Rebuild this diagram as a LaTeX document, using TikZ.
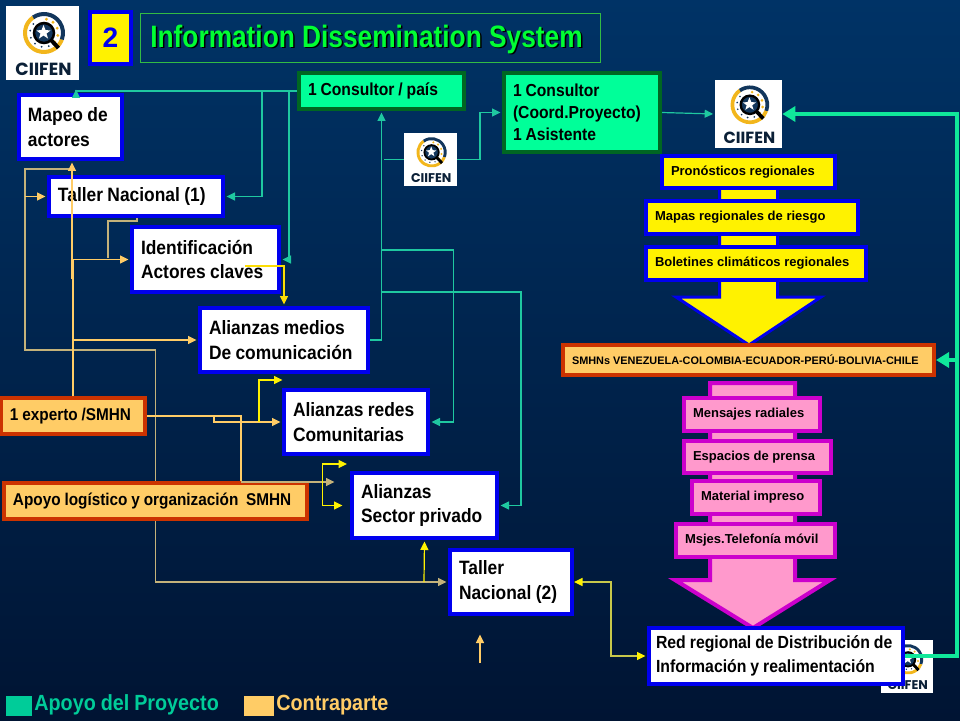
\documentclass[tikz,border=0pt]{standalone}
\usepackage{fontspec}
\setmainfont[FakeStretch=0.9, WordSpace=0.9]{Liberation Sans}
\newfontfamily\widefont{Liberation Sans}
\newfontfamily\titlefont[FakeStretch=0.85]{Liberation Sans}
\newfontfamily\logofont{Poppins}
\usetikzlibrary{arrows.meta}
\definecolor{bgtop}{HTML}{003366}
\definecolor{bgbottom}{HTML}{001433}
\definecolor{boxblue}{HTML}{0000EE}
\definecolor{darkgreen}{HTML}{006622}
\definecolor{mintfill}{HTML}{00FF99}
\definecolor{titlegreen}{HTML}{00FF33}
\definecolor{titleline}{HTML}{33BB44}
\definecolor{redline}{HTML}{CC3300}
\definecolor{orangefill}{HTML}{FFCC66}
\definecolor{legendgreen}{HTML}{00CC99}
\definecolor{pinkfill}{HTML}{FF99CC}
\definecolor{pinkline}{HTML}{CC00CC}
\definecolor{linkgreen}{HTML}{1FC8A0}
\definecolor{thickgreen}{HTML}{10E89A}
\definecolor{tanline}{HTML}{C4B27A}
\definecolor{oliveline}{HTML}{C8C84A}
\definecolor{logogold}{HTML}{F2B61C}
\definecolor{logonavy}{HTML}{12365C}

\begin{document}
\begin{tikzpicture}[
    x=0.02cm, y=-0.02cm,
    sized/.style 2 args={minimum width=#1*0.02cm, minimum height=#2*0.02cm, text width=#1*0.02cm-0.36cm},
    anybox/.style={rectangle, line width=0.08cm, align=flush left, inner sep=0pt, text=black},
    whitebox/.style={anybox, draw=boxblue, fill=white, font=\fontsize{11}{14.2}\selectfont\bfseries},
    mintbox/.style={anybox, draw=darkgreen, fill=mintfill, font=\fontsize{9.9}{12.6}\selectfont\bfseries},
    orangebox/.style={anybox, draw=redline, fill=orangefill, font=\fontsize{9.7}{12.6}\selectfont\bfseries},
    yellowbox/.style={anybox, draw=boxblue, fill=yellow, font=\widefont\fontsize{7.4}{9}\selectfont\bfseries},
    pinkbox/.style={anybox, draw=pinkline, fill=pinkfill, font=\widefont\fontsize{7.4}{9}\selectfont\bfseries},
    logobox/.style={rectangle, fill=white, inner sep=0pt},
    link/.style={-{Triangle[length=0.17cm, width=0.16cm]}, line width=0.024cm, shorten >=0.03cm},
    greenlink/.style={link, linkgreen},
    orangelink/.style={link, orangefill},
    tanlink/.style={link, tanline},
    yellowlink/.style={link, yellow},
    thicklink/.style={-{Triangle[length=0.26cm, width=0.3cm]}, line width=0.08cm, thickgreen},
    legendtext/.style={font=\fontsize{12.5}{14}\selectfont\bfseries, inner sep=0pt, anchor=west},
    pics/ciifenmark/.style={code={
      \begin{scope}[scale=#1, transform shape]
        \draw[logogold, line width=#1*0.08cm] (1.5,-10)+(-125:19) arc[start angle=-125, end angle=-340, radius=19];
        \draw[logonavy, line width=#1*0.08cm] (1.5,-10)+(-125:19) arc[start angle=-125, end angle=20, radius=19];
        \foreach \a in {-80,-50,-20,10,40} \fill[logogold] (1.5,-10)+(\a:14) circle (1.6);
        \foreach \a in {70,100,130,160,190,220} \fill[logonavy] (1.5,-10)+(\a:14) circle (1);
        \draw[black, line width=#1*0.08cm] (8.5,-3) -- (16,5);
        \draw[black, fill=logonavy, line width=#1*0.05cm] (1.5,-10) circle (10);
        \fill[white] (1,-18) -- (3,-13) -- (8,-12.5) -- (4,-9.5) -- (5.5,-4.5) -- (1,-7.5) -- (-3.5,-4.5) -- (-2,-9.5) -- (-6,-12.5) -- (-1,-13) -- cycle;
        \node[font=\logofont\bfseries\fontsize{10}{11}\selectfont, text=logonavy!60!black, inner sep=0pt] (logoname) at (1,26) {CIIFEN};
      \end{scope}
    }},
  ]
  % background
  \shade[top color=bgtop, bottom color=bgbottom] (0,0) rectangle (960,720);
  \useasboundingbox (0,0) rectangle (960,720);

  % big arrows behind the boxes
  \draw[boxblue, fill=yellow, line width=0.06cm] (719.5,188) -- (777.5,188) -- (777.5,297) -- (821,297) -- (749,345) -- (676,297) -- (719.5,297) -- cycle;
  \draw[pinkline, fill=pinkfill, line width=0.08cm] (710,383) -- (795,383) -- (795,580) -- (830,580) -- (753,628) -- (675,580) -- (710,580) -- cycle;

  % logos
  \node[logobox, minimum width=1.46cm, minimum height=1.48cm] (logohead) at (42.5,43) {};
  \pic at (logohead) {ciifenmark=1};
  \node[logobox, minimum width=1.34cm, minimum height=1.36cm] (logotop) at (748.5,114) {};
  \pic at (logotop) {ciifenmark=0.92};
  \node[logobox, minimum width=1.06cm, minimum height=1.06cm] (logomid) at (430.5,159.5) {};
  \pic at (logomid) {ciifenmark=0.72};
  \node[logobox, minimum width=1.04cm, minimum height=1.06cm] (logolow) at (907,666.5) {};
  \pic at (logolow) {ciifenmark=0.72};

  % title
  \node[rectangle, draw=boxblue, fill=yellow, line width=0.08cm, minimum width=0.82cm, minimum height=1.04cm, text=boxblue, font=\widefont\fontsize{16}{16}\selectfont\bfseries, inner sep=0pt] (num) at (110.5,38) {2};
  \node[rectangle, draw=titleline, line width=0.02cm, minimum width=9.22cm, minimum height=0.98cm] (titlebox) at (370.5,38) {};
  \node[font=\titlefont\fontsize{17.6}{20}\selectfont\bfseries, text=black, inner sep=0pt, anchor=west] (titleshade) at (151.5,41) {Information Dissemination System};
  \node[font=\titlefont\fontsize{17.6}{20}\selectfont\bfseries, text=titlegreen, inner sep=0pt, anchor=west] (titletext) at (150,39.5) {Information Dissemination System};

  % left column
  \node[whitebox, sized={103}{64}] (mapeo) at (70.5,127) {Mapeo de\\actores};
  \node[whitebox, sized={174}{39}] (taller1) at (136,196.5) {Taller Nacional (1)};
  \node[whitebox, sized={147}{65}] (ident) at (205.5,259.5) {Identificación\\Actores claves};
  \node[whitebox, sized={168}{64}] (medios) at (284,340) {Alianzas medios\\De comunicación};
  \node[whitebox, sized={144}{64}] (redes) at (356,422) {Alianzas redes\\Comunitarias};
  \node[whitebox, sized={145}{65}] (sector) at (424.5,505.5) {Alianzas\\Sector privado};
  \node[whitebox, sized={122}{64}] (taller2) at (511,582) {Taller\\Nacional (2)};
  \node[orangebox, sized={144}{36}] (experto) at (73,416) {1 experto /SMHN};
  \node[orangebox, sized={303}{36}] (apoyo) at (155.5,501) {Apoyo logístico y organización\ \ SMHN};

  % top green boxes
  \node[mintbox, sized={165}{36}] (consultor) at (381.5,91) {1 Consultor / país};
  \node[mintbox, sized={156}{79}] (coord) at (582,112.5) {1 Consultor\\(Coord.Proyecto)\\1 Asistente};

  % yellow stack
  \node[yellowbox, sized={173}{32}] (pronos) at (748.5,172) {Pronósticos regionales};
  \node[yellowbox, sized={212}{33}] (mapas) at (752,217.5) {Mapas regionales de riesgo};
  \node[yellowbox, sized={220}{33}] (boletines) at (756,263.5) {Boletines climáticos regionales};
  \node[orangebox, sized={371}{30}, font=\widefont\fontsize{6.2}{8}\selectfont\bfseries] (smhn) at (748.5,360) {SMHNs VENEZUELA-COLOMBIA-ECUADOR-PERÚ-BOLIVIA-CHILE};

  % pink stack
  \node[pinkbox, sized={136}{33}] (mensajes) at (752,414.5) {Mensajes radiales};
  \node[pinkbox, sized={147}{32}] (espacios) at (757.5,457) {Espacios de prensa};
  \node[pinkbox, sized={128}{33}] (material) at (756,497.5) {Material impreso};
  \node[pinkbox, sized={159}{33}] (msjes) at (755.5,540.5) {Msjes.Telefonía móvil};
  \node[whitebox, sized={254}{56}, text width=4.8cm, font=\fontsize{10}{13.6}\selectfont\bfseries] (red) at (776,656) {Red regional de Distribución de\\Información y realimentación};

  % legend
  \node[rectangle, fill=legendgreen, minimum width=0.52cm, minimum height=0.4cm, inner sep=0pt] (keygreen) at (19,706) {};
  \node[legendtext, text=legendgreen] (keygreentext) at (34,705) {Apoyo del Proyecto};
  \node[rectangle, fill=orangefill, minimum width=0.6cm, minimum height=0.4cm, inner sep=0pt] (keyorange) at (259,706) {};
  \node[legendtext, text=orangefill] (keyorangetext) at (276,705) {Contraparte};

  % junctions on the lines
  \coordinate (tiemapeo) at (76,88);
  \coordinate (tietop) at (262,91);
  \coordinate (tieident) at (289,91);
  \coordinate (midbus) at (382,159.5);
  \coordinate (tieredes) at (382,250);
  \coordinate (tiesector) at (382,292);
  \coordinate (busright) at (480,159.5);
  \coordinate (tiesmhn) at (957,360);
  \coordinate (leftbus) at (25,350);
  \coordinate (bustop) at (25,169);
  \coordinate (tietaller) at (25,196.5);
  \coordinate (mapeofeed) at (72,279);
  \coordinate (tiemapeofeed) at (72,169);
  \coordinate (tiemedios) at (73,340);
  \coordinate (tallerlow) at (137,218);
  \coordinate (tiefeed) at (108,259.5);
  \coordinate (identtext) at (245,266);
  \coordinate (tieexperto) at (214,416);
  \coordinate (tieapoyo) at (241,482);
  \coordinate (apoyoout) at (336,482);
  \coordinate (tiemediosup) at (259,422);
  \coordinate (medioslow) at (284,380);
  \coordinate (sectorup) at (322.5,505.5);
  \coordinate (sectorin) at (344,505.5);
  \coordinate (redeslow) at (347,464);
  \coordinate (tietaller2) at (424,582);
  \coordinate (loosefoot) at (480,663);
  \coordinate (loosetip) at (480,633);

  % project links
  \draw[greenlink] (consultor.west) -| (tiemapeo);
  \draw[greenlink] (tietop) |- (taller1.east);
  \draw[greenlink] (tieident) |- (ident.east);
  \draw[greenlink] (medios.east) -| (consultor.south);
  \draw[greenlink, -] (logomid.west) -- (midbus);
  \draw[greenlink] (logomid.east) -- (busright) |- (coord.west);
  \draw[greenlink] (tieredes) -| (453.5,300) |- (redes.east);
  \draw[greenlink] (tiesector) -| (521,400) |- (sector.east);
  \draw[greenlink] (coord.east) -- (logotop.west);
  \draw[thicklink] (red.east) -| (tiesmhn) |- (logotop.east);
  \draw[thicklink] (tiesmhn) -- (smhn.east);

  % counterpart links
  \draw[tanlink, -] (apoyo.north) |- (leftbus) -- (bustop) -- (tiemapeofeed);
  \draw[orangelink] (tietaller) -- (taller1.west);
  \draw[orangelink] (experto.north) |- (ident.west);
  \draw[orangelink] (mapeofeed) -- (mapeo.south -| mapeofeed);
  \draw[orangelink] (tiemedios) -- (medios.west);
  \draw[tanlink, -] (tallerlow) -- ++(0,3) -| (tiefeed);
  \draw[link, yellow!80!orange] (identtext) -| (medios.north);
  \draw[orangelink, -] (experto.east) -| (tieapoyo);
  \draw[tanlink] (tieapoyo) -- (apoyoout);
  \draw[orangelink] (tieexperto) |- (redes.west);
  \draw[yellowlink] (tiemediosup) |- (medioslow);
  \draw[yellowlink, {Triangle[length=0.17cm, width=0.16cm]}-{Triangle[length=0.17cm, width=0.16cm]}] (redeslow) -| (sectorup) -- (sectorin);
  \draw[tanlink] (apoyo.south) |- (taller2.west);
  \draw[yellowlink] (tietaller2) -- (sector.south);
  \draw[orangelink] (loosefoot) -- (loosetip);
  \draw[link, oliveline, {Triangle[length=0.17cm, width=0.16cm, yellow]}-{Triangle[length=0.17cm, width=0.16cm, yellow]}] (taller2.east) -| (611,620) |- (red.west);
\end{tikzpicture}
\end{document}
